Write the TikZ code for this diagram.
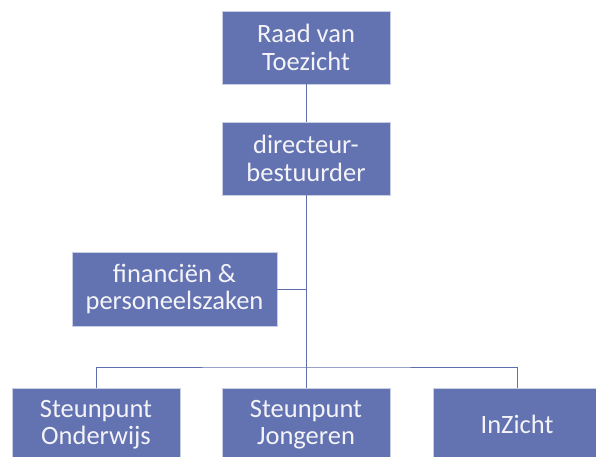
\documentclass[tikz,border=0pt]{standalone}
\usepackage{fontspec}
\setmainfont{Carlito}
\definecolor{boxfill}{RGB}{99,114,176}
\definecolor{boxedge}{RGB}{200,206,228}
\definecolor{linec}{RGB}{96,110,172}
\definecolor{txt}{RGB}{244,244,248}
\tikzset{
  orgbox/.style={draw=boxedge, line width=0.9pt, fill=boxfill, text=txt,
    minimum width=168pt, minimum height=73pt, align=center, inner sep=0pt,
    font=\fontsize{26.5}{27.5}\selectfont},
  conn/.style={draw=linec, line width=1pt}
}
\begin{document}
\begin{tikzpicture}[x=1pt,y=-1pt]
\useasboundingbox (0,0) rectangle (596,457);
\clip (0,0) rectangle (596,457);
\node[orgbox] (raad) at (306,47.5) {Raad van\\Toezicht};
\node[orgbox] (dir) at (306,158.5) {directeur-\\bestuurder};
\node[orgbox, minimum width=205pt, minimum height=74pt] (fin) at (174.5,289) {financiën \&\\personeelszaken};
\node[orgbox] (ond) at (96,424.5) {Steunpunt\\Onderwijs};
\node[orgbox] (jon) at (306,424.5) {Steunpunt\\Jongeren};
\node[orgbox] (inz) at (517,424.5) {InZicht};
\coordinate (bus) at (306,367);
\draw[conn] (raad.south) -- (dir.north);
\draw[conn] (dir.south) -- (bus);
\draw[conn] (fin.east) -- (fin.east -| dir.south);
\draw[conn] (ond.north) |- (bus) -| (inz.north);
\draw[conn] (bus) -- (jon.north);
\end{tikzpicture}
\end{document}
